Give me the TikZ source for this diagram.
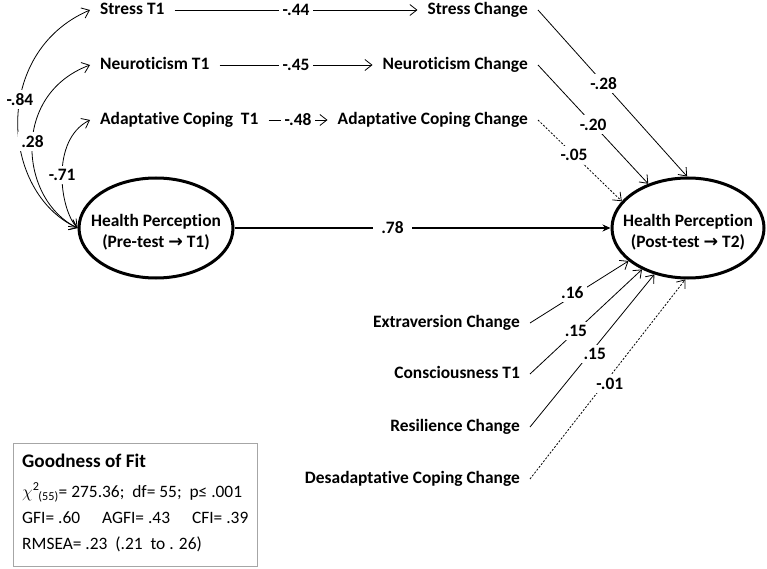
\documentclass[tikz,border=0pt]{standalone}
\usepackage{fontspec}
\setmainfont{Carlito}[Ligatures=NoCommon]
\newfontfamily\symfont{DejaVu Sans}
\usetikzlibrary{arrows.meta,shapes.geometric}
\begin{document}
\begin{tikzpicture}[x=1pt,y=-1pt,
  lab/.style={font=\fontsize{17.4}{20}\selectfont\bfseries, inner xsep=10pt, inner ysep=2pt, text height=12pt, text depth=3.5pt},
  coef/.style={font=\fontsize{17.4}{20}\selectfont\bfseries, fill=white, inner sep=3.5pt},
  hp/.style={ellipse, draw, line width=3pt, minimum height=100pt, inner sep=0pt},
  hptext/.style={font=\fontsize{17.4}{20.5}\selectfont\bfseries, align=center, inner sep=0pt, yshift=-4pt},
  arr/.style={line width=0.8pt, -{Straight Barb[length=7pt,width=11pt]}},
  cov/.style={line width=0.8pt, {Straight Barb[length=7pt,width=11pt]}-{Straight Barb[length=7pt,width=11pt]}},
  dsh/.style={dash pattern=on 2pt off 1.6pt},
  fit/.style={font=\fontsize{17.4}{20}\selectfont, anchor=west, inner sep=0pt, text height=12pt, text depth=3.5pt}
]
\useasboundingbox (0,0) rectangle (767,569);

% left column
\node[lab, anchor=west] (s1) at (90,10) {Stress T1};
\node[lab, anchor=west] (n1) at (90,65) {Neuroticism T1};
\node[lab, anchor=west] (a1) at (90,120) {Adaptative Coping\ \ T1};
% middle column
\node[lab, anchor=east] (sc) at (538,10) {Stress Change};
\node[lab, anchor=east] (nc) at (538,65) {Neuroticism Change};
\node[lab, anchor=east] (ac) at (538,120) {Adaptative Coping Change};
% bottom column
\node[lab, anchor=east] (ec) at (530,323) {Extraversion Change};
\node[lab, anchor=east] (ct) at (530,374) {Consciousness T1};
\node[lab, anchor=east] (rc) at (530,427) {Resilience Change};
\node[lab, anchor=east] (dc) at (530,479) {Desadaptative Coping Change};

% ellipses
\node[hp, minimum width=154pt, label={[hptext]center:{Health Perception\\(Pre-test {\symfont\bfseries →} T1)}}] (h1) at (156,228) {};
\node[hp, minimum width=152pt, label={[hptext]center:{Health Perception\\(Post-test {\symfont\bfseries →} T2)}}] (h2) at (688,228) {};

% horizontal paths
\draw[arr] (s1) -- node[coef]{-.44} (sc);
\draw[arr] (n1) -- node[coef]{-.45} (nc);
\draw[arr] (a1) -- node[coef]{-.48} (ac);

% covariances
\draw[cov] (h1.west) .. controls (0,192) and (-8,52) .. node[coef,pos=0.58]{-.84} (s1.west);
\draw[cov] (h1.west) .. controls (20,200) and (10,95) .. node[coef,pos=0.53]{.28} (n1.west);
\draw[cov] (h1.west) .. controls (60,210) and (50,140) .. node[coef,pos=0.5]{-.71} (a1.west);

% stability
\draw[line width=1.6pt, -{Stealth[length=8pt,width=7pt]}] (h1) -- node[coef,pos=0.42,inner xsep=8pt]{.78} (h2);

% change paths to T2
\draw[arr] (sc.east) -- node[coef,pos=0.44]{-.28} (h2.91);
\draw[arr] (nc.east) -- node[coef,pos=0.5]{-.20} (h2.132);
\draw[arr,dsh] (ac.east) -- node[coef,pos=0.43]{-.05} (h2.158);

\draw[arr] (ec.east) -- node[coef,pos=0.43,yshift=4pt]{.16} (h2.-151);
\draw[arr] (ct.east) -- node[coef,pos=0.41]{.15} (h2.-138);
\draw[arr] (rc.east) -- node[coef,pos=0.48,xshift=5pt]{.15} (h2.-126);
\draw[arr,dsh] (dc.east) -- node[coef,pos=0.475,xshift=6pt]{-.01} (h2.-93);

% goodness of fit box
\node[draw=black!35, line width=1pt, minimum width=244pt, minimum height=123pt, anchor=north west, inner sep=0pt] (gof) at (13,443) {};
\node[fit, font=\fontsize{19.2}{22}\selectfont\bfseries] (g1) at (22,463) {Goodness of Fit};
\node[fit] (g2) at (22,493) {$\chi$\textsuperscript{2}\kern-1pt\textsubscript{(55)}= 275.36;\ \ df= 55;\ \ p≤ .001};
\node[fit] (g3) at (22,519) {GFI= .60\hspace{22pt}AGFI= .43\hspace{22pt}CFI= .39};
\node[fit] (g4) at (22,545) {RMSEA= .23\ \ (.21\ \ to . 26)};
\end{tikzpicture}
\end{document}
